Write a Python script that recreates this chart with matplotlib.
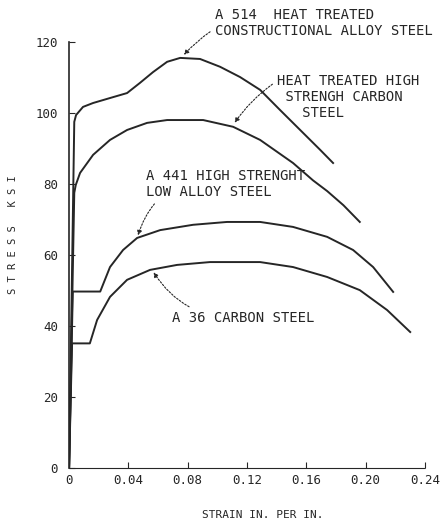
import matplotlib.pyplot as plt
import numpy as np

# strain (in/in) and stress (ksi)
a514_strain = [0.0, 0.0035, 0.0047, 0.0094, 0.0162, 0.0276, 0.0391, 0.0479, 0.0566, 0.0661,
               0.0749, 0.0883, 0.1018, 0.1153, 0.1288, 0.1423, 0.1558, 0.1693, 0.178]
a514_stress = [0.0, 97.5, 99.4, 101.7, 102.8, 104.2, 105.6, 108.5, 111.5, 114.4,
               115.5, 115.2, 113.0, 110.1, 106.5, 100.8, 95.2, 89.6, 85.9]

htc_strain = [0.0, 0.0035, 0.0045, 0.0074, 0.0162, 0.0276, 0.0391, 0.0526, 0.0661, 0.0904,
              0.1106, 0.1288, 0.151, 0.1645, 0.174, 0.185, 0.196]
htc_stress = [0.0, 77.5, 79.7, 83.1, 88.2, 92.4, 95.2, 97.2, 98.0, 98.0,
              96.1, 92.4, 85.9, 81.0, 78.0, 74.0, 69.3]

a441_strain = [0.0, 0.0025, 0.012, 0.021, 0.0276, 0.0364, 0.0459, 0.0614, 0.0836, 0.1065,
               0.1288, 0.151, 0.174, 0.1915, 0.205, 0.2185]
a441_stress = [0.0, 49.7, 49.7, 49.7, 56.6, 61.4, 64.8, 67.0, 68.5, 69.3,
               69.3, 67.9, 65.1, 61.4, 56.6, 49.6]

a36_strain = [0.0, 0.002, 0.008, 0.014, 0.0189, 0.0276, 0.0391, 0.0546, 0.0728, 0.095,
              0.1288, 0.151, 0.174, 0.196, 0.2144, 0.230]
a36_stress = [0.0, 35.1, 35.1, 35.1, 41.7, 48.2, 53.0, 55.8, 57.2, 58.0,
              58.0, 56.6, 53.8, 50.1, 44.5, 38.3]

x_ticks = [0.0, 0.04, 0.08, 0.12, 0.16, 0.20, 0.24]
x_tick_labels = ["0", "0.04", "0.08", "0.12", "0.16", "0.20", "0.24"]
y_ticks = [0, 20, 40, 60, 80, 100, 120]

ink = "#262626"
plt.rcParams["font.family"] = ["DejaVu Sans Mono", "DejaVu Sans"]

fig = plt.figure(figsize=(4.4, 5.28), dpi=100)
ax = fig.add_axes([0.157, 0.1136, 0.809, 0.807])

for strain, stress in [(a514_strain, a514_stress), (htc_strain, htc_stress),
                       (a441_strain, a441_stress), (a36_strain, a36_stress)]:
    ax.plot(strain, stress, color=ink, lw=1.4, solid_joinstyle="round")

ax.set_xlim(0, 0.24)
ax.set_ylim(0, 120)
ax.set_xticks(x_ticks)
ax.set_xticklabels(x_tick_labels)
ax.set_yticks(y_ticks)
ax.tick_params(axis="both", direction="in", length=4, colors=ink, labelsize=9)
ax.tick_params(axis="x", pad=4)
ax.tick_params(axis="y", pad=8)
for side in ["top", "right"]:
    ax.spines[side].set_visible(False)
ax.spines["left"].set_color(ink)
ax.spines["left"].set_linewidth(1.2)
ax.spines["bottom"].set_color(ink)
ax.spines["bottom"].set_linestyle((0, (2, 1)))
ax.spines["bottom"].set_linewidth(0.8)

fig.text(0.598, 0.015, "STRAIN IN. PER IN.", fontsize=8, color=ink,
         ha="center", va="bottom")
fig.text(0.03, 0.556, "S T R E S S   K S I", fontsize=7.5, color=ink,
         rotation=90, ha="center", va="center")

arrow = dict(arrowstyle="-|>", color=ink, lw=0.8, linestyle=(0, (1.5, 1.5)),
             mutation_scale=7)
text_kw = dict(fontsize=10, color=ink, linespacing=1.2, annotation_clip=False)

ax.annotate("A 514  HEAT TREATED\nCONSTRUCTIONAL ALLOY STEEL", xy=(0.0762, 115.8),
            xytext=(0.0985, 125.3), ha="left", va="center",
            arrowprops=dict(arrow, connectionstyle="arc3,rad=0.35"), **text_kw)
ax.annotate("HEAT TREATED HIGH\n STRENGH CARBON\n   STEEL", xy=(0.1106, 96.6),
            xytext=(0.1405, 104.5), ha="left", va="center", multialignment="left",
            arrowprops=dict(arrow, connectionstyle="arc3,rad=0.1", relpos=(0.0, 0.85)),
            **text_kw)
ax.annotate("A 441 HIGH STRENGHT\nLOW ALLOY STEEL", xy=(0.0459, 64.8),
            xytext=(0.052, 80.0), ha="left", va="center",
            arrowprops=dict(arrow, connectionstyle="arc3,rad=0.45"), **text_kw)
ax.annotate("A 36 CARBON STEEL", xy=(0.056, 55.8),
            xytext=(0.0695, 42.3), ha="left", va="center",
            arrowprops=dict(arrow, connectionstyle="arc3,rad=-0.3"), **text_kw)

fig.savefig("out.png", dpi=100)
plt.close(fig)
